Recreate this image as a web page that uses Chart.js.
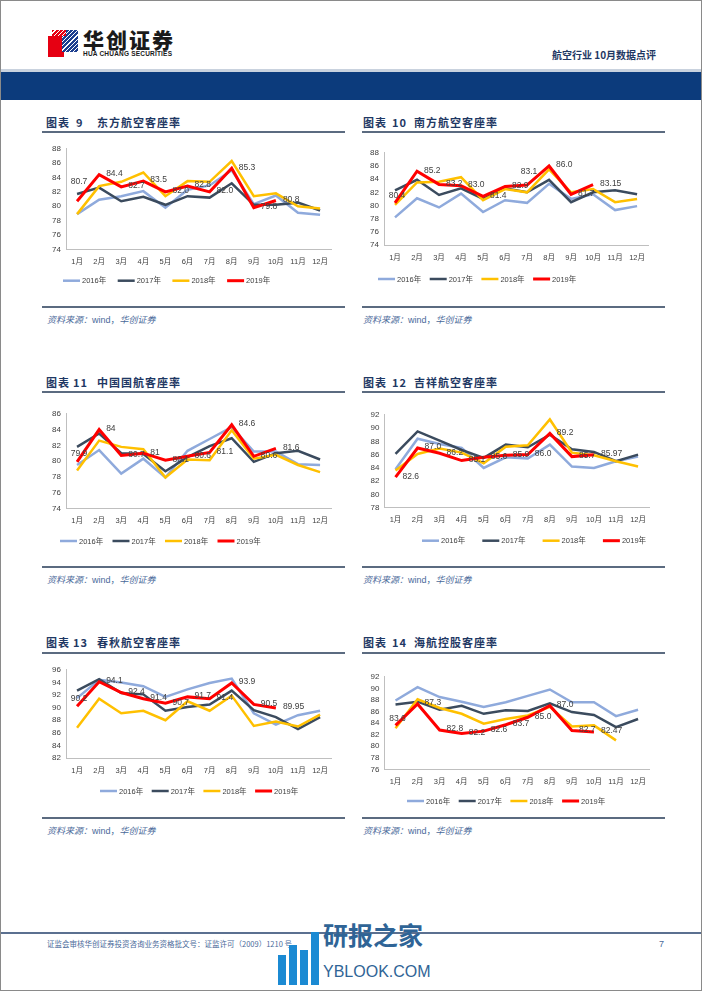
<!DOCTYPE html>
<html><head><meta charset="utf-8">
<script src="https://cdn.jsdelivr.net/npm/chart.js@4.4.1/dist/chart.umd.min.js"></script>
<style>
html,body{margin:0;padding:0}
body{width:702px;height:991px;position:relative;overflow:hidden;background:#fff;font-family:"Liberation Sans","Noto Sans CJK SC",sans-serif}
.abs{position:absolute}
#frame{left:0;top:0;width:700px;height:989px;border:1px solid #8a8a8a}
#hline{left:1px;top:69px;width:700px;height:3px;background:#c9d2de}
#band{left:1px;top:72px;width:700px;height:28px;background:#0c3b7c}
.title{position:absolute;font-family:"Noto Sans CJK SC";font-weight:700;font-size:11px;line-height:14px;color:#1f3864;white-space:nowrap;letter-spacing:1px}
.uline{height:1.5px;background:#5b6b80;width:303px}
.src{font-size:9px;line-height:12px;color:#4a6a9a;white-space:nowrap}
.src i{font-family:"Noto Sans CJK SC";font-style:italic}
canvas{position:absolute}
</style></head>
<body>
<div id="frame" class="abs"></div>
<div class="abs" style="left:48px;top:36px;width:16px;height:21px;background:#e60012"></div>
<div class="abs" style="left:62px;top:30px;width:16px;height:22px;background:repeating-linear-gradient(135deg,#1d3f8f 0 2px,#ffffff 2px 3px)"></div>
<div class="abs" style="left:52px;top:30px;width:14px;height:6px;background:repeating-linear-gradient(135deg,#e60012 0 2px,#ffffff 2px 3px)"></div>
<div class="abs" style="left:83px;top:26px;font-family:'Noto Sans CJK SC';font-weight:900;font-size:21px;line-height:26px;color:#1a1a1a;letter-spacing:2px">华创证券</div>
<div class="abs" style="left:83px;top:50px;font-weight:700;font-size:6.5px;line-height:8px;color:#1a1a1a;letter-spacing:0.2px">HUA CHUANG SECURITIES</div>
<div class="abs" style="left:552px;top:48px;font-family:'Noto Sans CJK SC';font-weight:700;font-size:10px;line-height:14px;color:#1f3864">航空行业 10月数据点评</div>
<div id="hline" class="abs"></div>
<div id="band" class="abs"></div>

<div class="title" style="left:46px;top:115px">图表</div><div class="title" style="left:76px;top:115px">9</div><div class="title" style="left:97px;top:115px">东方航空客座率</div>
<div class="title" style="left:363px;top:115px">图表</div><div class="title" style="left:392px;top:115px">10</div><div class="title" style="left:414px;top:115px">南方航空客座率</div>
<div class="abs uline" style="left:42px;top:131px"></div>
<div class="abs uline" style="left:362px;top:131px"></div>
<div class="abs uline" style="left:42px;top:306px"></div>
<div class="abs uline" style="left:362px;top:306px"></div>
<div class="abs src" style="left:47px;top:314px"><i>资料来源：</i>wind，<i>华创证券</i></div>
<div class="abs src" style="left:363px;top:314px"><i>资料来源：</i>wind，<i>华创证券</i></div>

<div class="title" style="left:46px;top:375px">图表</div><div class="title" style="left:73px;top:375px">11</div><div class="title" style="left:97px;top:375px">中国国航客座率</div>
<div class="title" style="left:363px;top:375px">图表</div><div class="title" style="left:392px;top:375px">12</div><div class="title" style="left:414px;top:375px">吉祥航空客座率</div>
<div class="abs uline" style="left:42px;top:391px"></div>
<div class="abs uline" style="left:362px;top:391px"></div>
<div class="abs uline" style="left:42px;top:566px"></div>
<div class="abs uline" style="left:362px;top:566px"></div>
<div class="abs src" style="left:47px;top:574px"><i>资料来源：</i>wind，<i>华创证券</i></div>
<div class="abs src" style="left:363px;top:574px"><i>资料来源：</i>wind，<i>华创证券</i></div>

<div class="title" style="left:46px;top:635px">图表</div><div class="title" style="left:73px;top:635px">13</div><div class="title" style="left:97px;top:635px">春秋航空客座率</div>
<div class="title" style="left:363px;top:635px">图表</div><div class="title" style="left:392px;top:635px">14</div><div class="title" style="left:414px;top:635px">海航控股客座率</div>
<div class="abs uline" style="left:42px;top:652px"></div>
<div class="abs uline" style="left:362px;top:652px"></div>
<div class="abs uline" style="left:42px;top:817px"></div>
<div class="abs uline" style="left:362px;top:817px"></div>
<div class="abs src" style="left:47px;top:825px"><i>资料来源：</i>wind，<i>华创证券</i></div>
<div class="abs src" style="left:363px;top:825px"><i>资料来源：</i>wind，<i>华创证券</i></div>

<div class="abs" style="left:1px;top:932px;width:700px;height:2px;background:#5b7090"></div>
<div class="abs" style="left:47px;top:939px;font-family:'Noto Sans CJK SC';font-size:7.5px;line-height:10px;color:#4a6a9a">证监会审核华创证券投资咨询业务资格批文号：证监许可（2009）1210 号</div>
<div class="abs" style="left:659px;top:938px;font-size:9px;line-height:12px;color:#4a6a9a">7</div>
<div class="abs" style="left:278px;top:955px;width:8px;height:30px;background:#1b8ad3"></div>
<div class="abs" style="left:289px;top:945px;width:8px;height:40px;background:#1b8ad3"></div>
<div class="abs" style="left:300px;top:950px;width:8px;height:35px;background:#1b8ad3"></div>
<div class="abs" style="left:311px;top:932px;width:8px;height:53px;background:#1b8ad3"></div>
<div class="abs" style="left:323px;top:918px;font-family:'Noto Sans CJK SC';font-weight:700;font-size:25px;line-height:32px;color:#2f6496">研报之家</div>
<div class="abs" style="left:323px;top:962px;font-size:16px;line-height:20px;color:#2f6496">YBLOOK.COM</div>

<canvas id="c1"></canvas><canvas id="c2"></canvas><canvas id="c3"></canvas>
<canvas id="c4"></canvas><canvas id="c5"></canvas><canvas id="c6"></canvas>

<script>
// 月份 / 年份
const months = ["1月","2月","3月","4月","5月","6月","7月","8月","9月","10月","11月","12月"];
const years = ["2016年","2017年","2018年","2019年"];
const colors = ["#8faadc","#3b4b5e","#ffc000","#ff0000"];

// 东方航空
const ceaY = [74,76,78,80,82,84,86,88];
const cea2016 = [78.9,80.9,81.4,82.1,79.8,82.3,82.9,85.0,80.3,81.5,79.1,78.8];
const cea2017 = [81.7,82.6,80.7,81.3,80.2,81.4,81.2,83.2,80.2,80.2,80.5,79.4];
const cea2018 = [78.9,82.8,83.4,84.7,81.4,83.5,83.4,86.3,81.4,81.8,80.0,79.7];
const cea2019 = [80.7,84.4,82.7,83.5,82.0,82.8,82.0,85.3,79.8,80.8];

// 南方航空
const cszY = [74,76,78,80,82,84,86,88];
const csz2016 = [78.2,81.1,79.7,81.8,79.0,80.8,80.4,83.3,81.0,81.7,79.3,79.9];
const csz2017 = [82.3,83.9,81.6,82.6,81.0,82.6,82.0,83.9,80.5,82.0,82.3,81.7];
const csz2018 = [80.1,83.5,83.6,84.3,80.8,82.5,82.0,85.5,82.0,82.5,80.5,81.0];
const csz2019 = [80.4,85.2,83.2,83.0,81.4,82.9,83.1,86.0,81.7,83.15];

// 中国国航
const airY = [74,76,78,80,82,84,86];
const air2016 = [79.5,81.4,78.4,80.3,77.9,81.3,82.8,84.3,81.2,81.2,79.6,79.5];
const air2017 = [81.8,83.5,81.0,80.9,78.7,80.5,81.9,82.9,79.9,81.0,81.3,80.2];
const air2018 = [78.8,82.6,81.8,81.5,77.9,80.2,80.1,83.9,80.3,80.8,79.5,78.6];
const air2019 = [79.9,84,80.7,81,80.1,80.6,81.1,84.6,80.6,81.6];

// 吉祥航空
const jxY = [78,80,82,84,86,88,90,92];
const jx2016 = [83.8,88.4,87.6,87.0,84.0,85.6,85.4,87.5,84.2,84.0,85.0,85.7];
const jx2017 = [86.1,89.5,88.1,86.7,85.5,87.5,87.1,89.0,86.8,86.4,85.0,86.0];
const jx2018 = [83.6,86.1,86.9,86.3,84.7,87.2,87.4,91.3,86.3,85.9,85.0,84.2];
const jx2019 = [82.6,87.0,86.2,85.1,85.6,85.9,86.0,89.2,85.7,85.97];

// 春秋航空
const cqY = [82,84,86,88,90,92,94,96];
const cq2016 = [91.5,94.4,94.0,93.4,91.7,92.9,93.9,94.6,89.1,87.3,88.8,89.5];
const cq2017 = [92.7,94.5,92.3,92.1,89.5,90.1,90.5,92.7,89.6,88.5,86.6,88.5];
const cq2018 = [86.8,91.4,89.1,89.5,88.0,91.0,89.5,91.9,87.1,87.8,87.0,88.9];
const cq2019 = [90.2,94.1,92.4,91.4,90.7,91.7,91.4,93.9,90.5,89.95];

// 海航控股
const hnaY = [76,78,80,82,84,86,88,90,92];
const hna2016 = [87.9,90.2,88.5,87.7,86.8,87.6,88.7,89.8,87.6,87.6,85.2,86.3];
const hna2017 = [87.2,87.7,86.3,87.0,85.6,86.2,86.1,87.4,85.9,85.4,83.3,84.7];
const hna2018 = [83.1,88.1,86.6,85.6,83.9,84.7,85.3,86.8,83.4,83.6,81.0];
const hna2019 = [83.6,87.3,82.8,82.2,82.6,83.7,85.0,87.0,82.7,82.47];

Chart.defaults.font.family = '"Liberation Sans","Noto Sans CJK SC",sans-serif';
Chart.defaults.color = "#404040";

// 2019 数值标签（默认在点右侧，above 里的点放在上方）
const pointLabels = {
  id:"pointLabels",
  afterDatasetsDraw(chart, args, opts){
    const i = chart.data.datasets.length - 1;
    const meta = chart.getDatasetMeta(i);
    const vals = chart.data.datasets[i].data;
    const ctx = chart.ctx;
    ctx.save();
    ctx.font = '8.5px "Liberation Sans"';
    ctx.fillStyle = "#404040";
    ctx.textBaseline = "middle";
    meta.data.forEach((p, k) => {
      const v = vals[k];
      let txt = String(v);
      if (opts.fmt == "fixed" && Number.isInteger(v * 10)) txt = v.toFixed(1);
      if (k in opts.above) {
        ctx.textAlign = "center";
        ctx.fillText(txt, p.x + 2, p.y - opts.above[k]);
      } else {
        ctx.textAlign = "left";
        ctx.fillText(txt, p.x + 7, p.y - 1);
      }
    });
    ctx.restore();
  }
};

// 图例（线段 + 文字）
const lineLegend = {
  id:"lineLegend",
  afterDraw(chart, args, o){
    const ctx = chart.ctx;
    ctx.save();
    ctx.font = '7.5px "Liberation Sans","Noto Sans CJK SC"';
    ctx.textBaseline = "middle";
    ctx.textAlign = "left";
    chart.data.datasets.forEach((d, i) => {
      const x = o.x0 + i * o.dx - o.cl;
      const y = o.y - o.ct;
      ctx.strokeStyle = d.borderColor;
      ctx.lineWidth = d.borderWidth;
      ctx.beginPath();
      ctx.moveTo(x, y);
      ctx.lineTo(x + 17, y);
      ctx.stroke();
      ctx.fillStyle = "#404040";
      ctx.fillText(d.label, x + 19, y + 0.5);
    });
    ctx.restore();
  }
};

function drawChart(id, series, yTicks, box, labelOpts){
  const xH = 20;
  const cl = Math.floor(box.L - 26);
  const yW = box.L - cl;
  const cw = Math.ceil(box.R - cl);
  const ct = Math.floor(box.T - 6);
  const cb = Math.ceil(box.legend.y + 8);

  const cv = document.getElementById(id);
  cv.width = cw;
  cv.height = cb - ct;
  cv.style.left = cl + "px";
  cv.style.top = ct + "px";

  new Chart(cv, {
    type:"line",
    data:{
      labels:months,
      datasets:series.map((d, i) => ({
        label:years[i],
        data:d,
        borderColor:colors[i],
        backgroundColor:colors[i],
        borderWidth:i == 3 ? 3 : 2.5,
        pointRadius:0,
        tension:0,
        order:3 - i
      }))
    },
    options:{
      responsive:false,
      animation:false,
      devicePixelRatio:1,
      layout:{padding:{left:0, right:cw - (box.R - cl), top:box.T - ct, bottom:cb - box.B - xH}},
      scales:{
        x:{
          offset:true,
          grid:{display:false, drawTicks:false},
          border:{color:"#bfbfbf"},
          ticks:{font:{size:7.5}, padding:8, maxRotation:0, autoSkip:false},
          afterFit(s){ s.height = xH; }
        },
        y:{
          min:yTicks[0],
          max:yTicks[yTicks.length - 1],
          grid:{display:false, drawTicks:false},
          border:{color:"#bfbfbf"},
          ticks:{stepSize:2, font:{size:8}, padding:5, autoSkip:false},
          afterFit(s){ s.width = yW; }
        }
      },
      plugins:{
        legend:{display:false},
        tooltip:{enabled:false},
        pointLabels:labelOpts,
        lineLegend:{...box.legend, cl:cl, ct:ct}
      }
    },
    plugins:[pointLabels, lineLegend]
  });
}

drawChart("c1", [cea2016, cea2017, cea2018, cea2019], ceaY,
  {L:66, R:336, T:145.7, B:249.3, legend:{x0:63, dx:54.7, y:280.7}}, {above:{0:20}, fmt:"fixed"});
drawChart("c2", [csz2016, csz2017, csz2018, csz2019], cszY,
  {L:384, R:653, T:149.3, B:245, legend:{x0:378, dx:51.7, y:279}}, {above:{0:7, 6:13}, fmt:"fixed"});
drawChart("c3", [air2016, air2017, air2018, air2019], airY,
  {L:66, R:336, T:410.7, B:508.3, legend:{x0:60, dx:52.5, y:541}}, {above:{0:8}, fmt:"general"});
drawChart("c4", [jx2016, jx2017, jx2018, jx2019], jxY,
  {L:384.5, R:653.5, T:411.7, B:507.7, legend:{x0:422, dx:60.3, y:540.7}}, {above:{}, fmt:"fixed"});
drawChart("c5", [cq2016, cq2017, cq2018, cq2019], cqY,
  {L:66, R:336, T:666, B:758, legend:{x0:100, dx:51.7, y:791}}, {above:{0:8}, fmt:"fixed"});
drawChart("c6", [hna2016, hna2017, hna2018, hna2019], hnaY,
  {L:384.5, R:653.5, T:673.3, B:769.3, legend:{x0:407, dx:51.7, y:801}}, {above:{0:7}, fmt:"fixed"});
</script>
</body></html>
